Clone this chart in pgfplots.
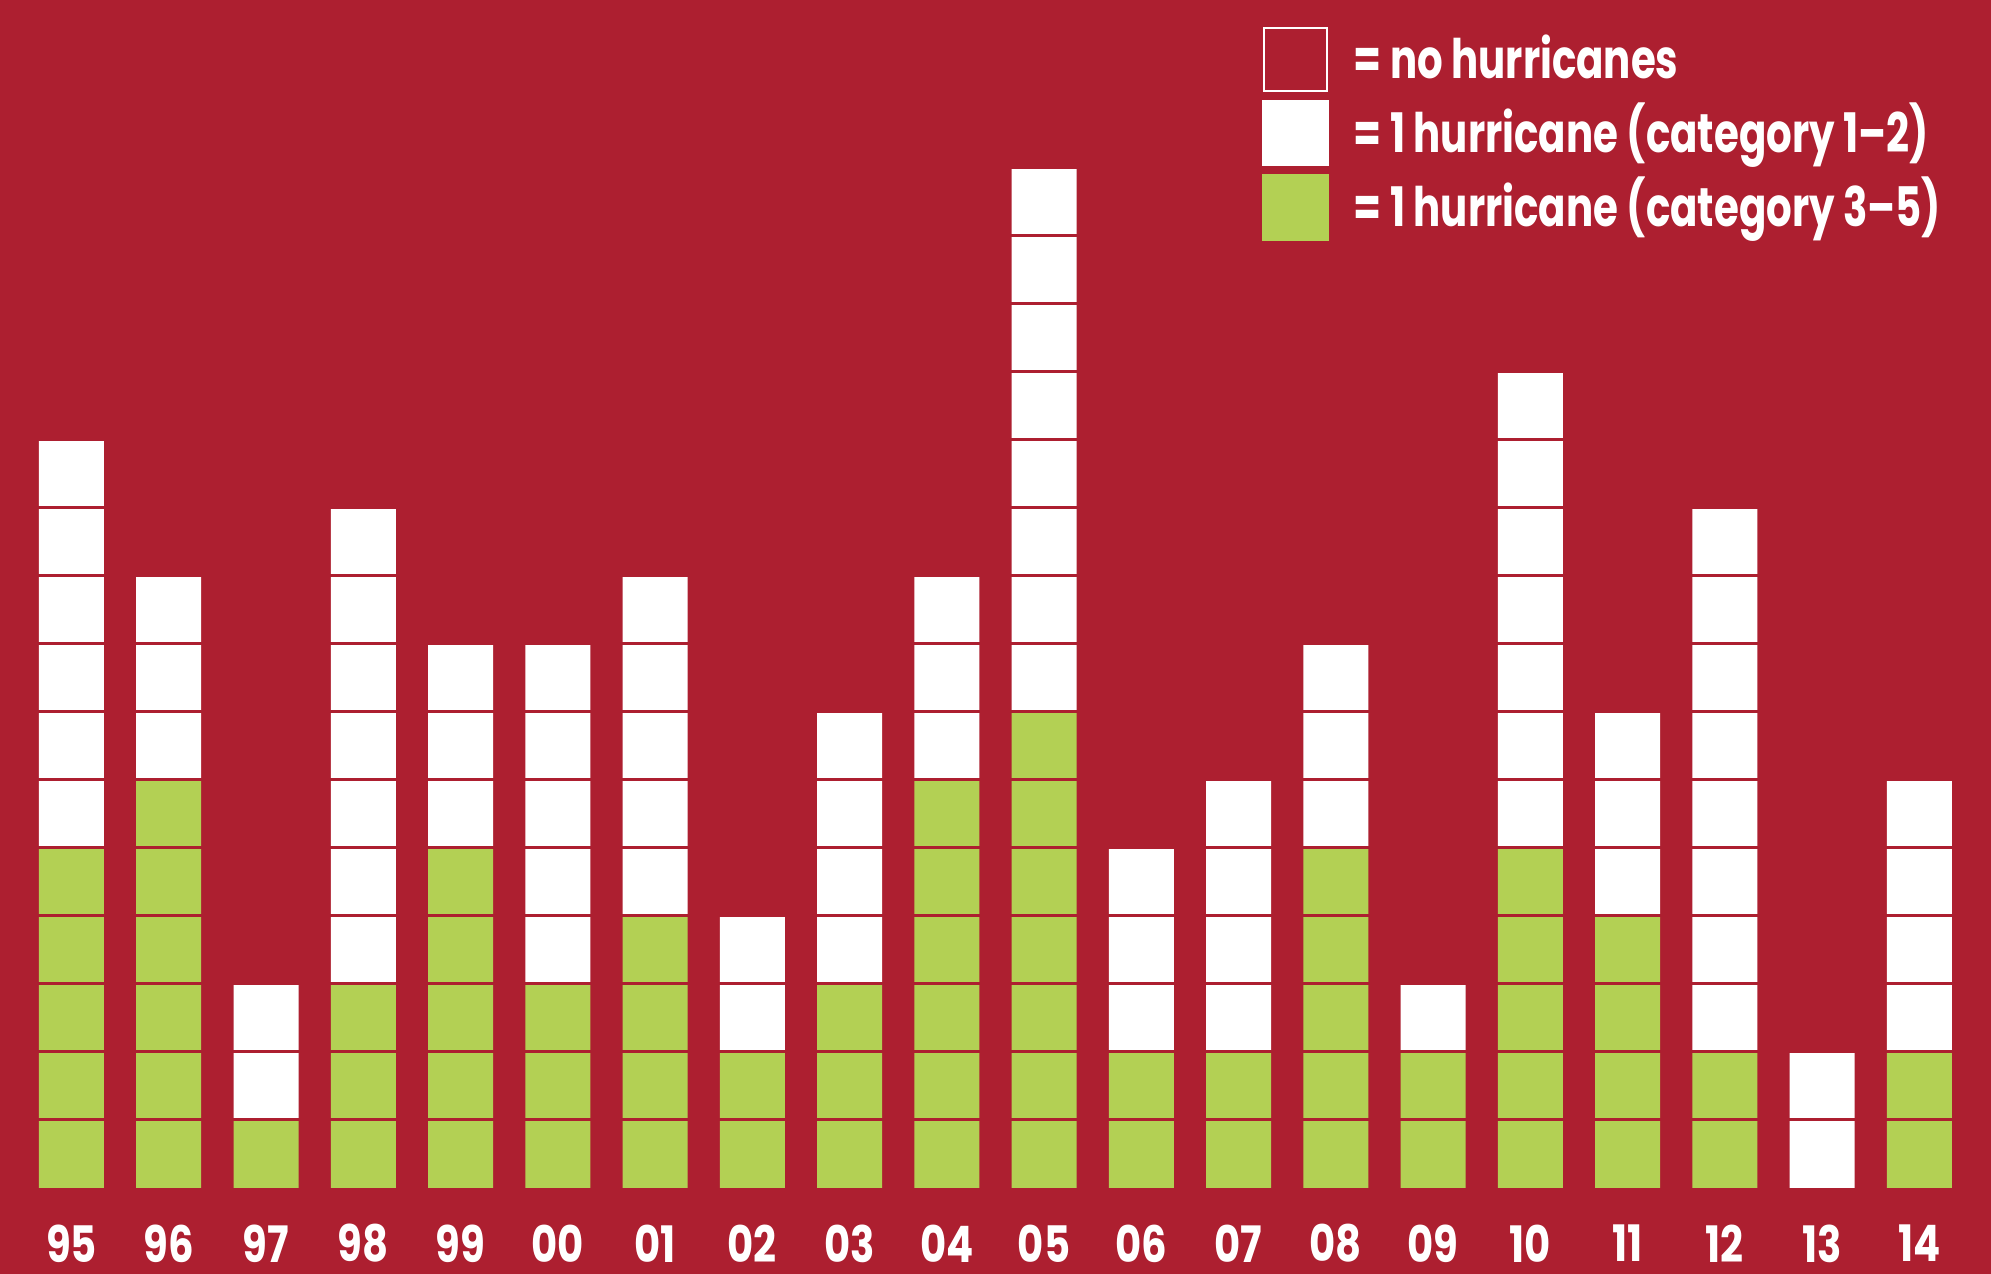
\documentclass[border=0pt]{standalone}
\usepackage{pgfplots}
\pgfplotsset{compat=1.18}
\usepackage{fontspec}
\newfontfamily\tickfont[FakeStretch=0.80]{Poppins}
\newfontfamily\legfont[FakeStretch=0.74]{Poppins}
\definecolor{bgred}{RGB}{173,31,48}
\definecolor{hgreen}{RGB}{179,208,84}
\begin{document}
\begin{tikzpicture}
\begin{axis}[
  scale only axis, width=19.91cm, height=12.74cm,
  xmin=-0.735, xmax=19.736, ymin=-1.265, ymax=17.47,
  enlargelimits=false,
  axis background/.style={fill=bgred},
  axis line style={draw=none},
  ybar stacked, bar width=0.65cm,
  xtick={0,...,19},
  xticklabels={95,96,97,98,99,00,01,02,03,04,05,06,07,08,09,10,11,12,13,14},
  ytick={1,...,15}, yticklabel=\empty,
  major tick length=0pt,
  ymajorgrids, grid style={draw=bgred, line width=0.03cm},
  axis on top,
  xticklabel style={anchor=center, inner sep=0pt, yshift=0.305cm, text=white,
    font={\tickfont\bfseries\fontsize{14.3pt}{16pt}\selectfont}},
  legend cell align=left,
  legend style={at={(rel axis cs:0.6339,0.9788)}, anchor=north west,
    draw=none, fill=none, inner sep=0pt, outer sep=0pt,
    /tikz/row sep=0.08cm, /tikz/column sep=0.25cm,
    nodes={inner sep=0pt, text=white, text height=0.38cm, text depth=0cm},
    font={\legfont\bfseries\fontsize{15.5pt}{17pt}\selectfont}},
]
\addlegendimage{legend image code/.code={\draw[white, line width=0.02cm] (0.01cm,-0.315cm) rectangle (0.64cm,0.315cm);}}
\addlegendentry{= no hurricanes}
\addlegendimage{legend image code/.code={\fill[white] (0cm,-0.325cm) rectangle (0.65cm,0.325cm);}}
\addlegendentry{= 1 hurricane (category 1–2)}
\addlegendimage{legend image code/.code={\fill[hgreen] (0cm,-0.325cm) rectangle (0.65cm,0.325cm);}}
\addlegendentry{= 1 hurricane (category 3–5)}
\addplot[forget plot, fill=hgreen, draw=none] coordinates {
 (0,5) (1,6) (2,1) (3,3) (4,5) (5,3) (6,4) (7,2) (8,3) (9,6)
 (10,7) (11,2) (12,2) (13,5) (14,2) (15,5) (16,4) (17,2) (18,0) (19,2)};
\addplot[forget plot, fill=white, draw=none] coordinates {
 (0,6) (1,3) (2,2) (3,7) (4,3) (5,5) (6,5) (7,2) (8,4) (9,3)
 (10,8) (11,3) (12,4) (13,3) (14,1) (15,7) (16,3) (17,8) (18,2) (19,4)};
\end{axis}
\pgfresetboundingbox
\useasboundingbox (current axis.south west) rectangle (current axis.north east);
\end{tikzpicture}
\end{document}
